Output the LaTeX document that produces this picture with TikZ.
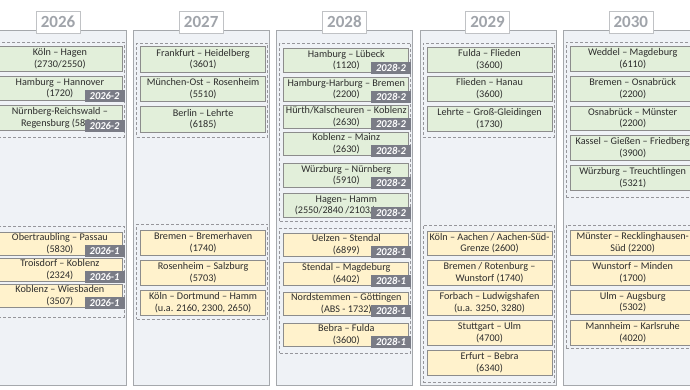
\documentclass[tikz,border=0pt]{standalone}
\usepackage{fontspec}
\setmainfont{Carlito}
\definecolor{panelfill}{RGB}{239,242,246}
\definecolor{panelline}{RGB}{165,168,172}
\definecolor{greenfill}{RGB}{226,239,218}
\definecolor{creamfill}{RGB}{255,242,204}
\definecolor{boxline}{RGB}{140,140,140}
\definecolor{tagfill}{RGB}{122,124,134}
\definecolor{yeartext}{RGB}{160,164,170}
\definecolor{grpline}{RGB}{150,150,155}
\definecolor{bodytext}{RGB}{45,45,45}
\tikzset{
  panel/.style={draw=panelline, fill=panelfill, line width=0.8pt, minimum width=136pt, anchor=north west, inner sep=0pt},
  yearlbl/.style={draw=panelline!70, fill=white, line width=0.6pt, minimum width=44pt, minimum height=22pt, inner sep=0pt, text=yeartext, font=\fontsize{17}{17}\selectfont\bfseries},
  grp/.style={draw=grpline, dashed, dash pattern=on 3pt off 2pt, line width=0.7pt, minimum width=131pt, anchor=north west, inner sep=0pt},
  rbox/.style={draw=boxline, line width=0.8pt, minimum width=125pt, anchor=north west, inner sep=0pt, align=center, text=bodytext, font=\fontsize{10.2}{11.5}\selectfont},
  gbox/.style={rbox, fill=greenfill},
  cbox/.style={rbox, fill=creamfill},
  tagbox/.style={fill=tagfill, text=white, minimum width=40pt, minimum height=12pt, inner sep=0pt, anchor=south east, font=\fontsize{10.5}{10.5}\selectfont\bfseries\itshape},
}
\newcommand\rtbox[6]{\node[#5, minimum height={(#4-#3)*1pt}] (#1) at ({#2+7},#3) {#6};}
\newcommand\rttag[2]{\node[tagbox] (#1t) at ([xshift=2pt,yshift=-1pt]#1.south east) {#2};}
\newcommand\grpbox[4]{\node[grp, minimum height={(#4-#3)*1pt}] (#1) at ({#2+3},#3) {};}
\begin{document}
\begin{tikzpicture}[x=1pt,y=-1pt]
\useasboundingbox (0,0) rectangle (690,389);
\clip (0,0) rectangle (690,389);
% panels
\foreach \k/\yr in {0/2026,1/2027,2/2028,3/2029,4/2030}{
  \pgfmathsetmacro\L{-10+143.2*\k}
  \node[panel, minimum height=355pt] (p\k) at (\L,30) {};
  \node[yearlbl] (y\k) at ({\L+68},22) {\yr};
}
% ---- 2026
\def\L{-10}
\grpbox{g0u}{\L}{42}{137}
\rtbox{a1}{\L}{46}{71}{gbox}{Köln – Hagen\\(2730/2550)}
\rtbox{a2}{\L}{76}{100}{gbox}{Hamburg – Hannover\\(1720)}
\rttag{a2}{2026-2}
\rtbox{a3}{\L}{105}{130}{gbox}{Nürnberg-Reichswald –\\Regensburg (5850)}
\rttag{a3}{2026-2}
\grpbox{g0l}{\L}{226}{317}
\rtbox{a4}{\L}{232}{255}{cbox}{Obertraubling – Passau\\(5830)}
\rttag{a4}{2026-1}
\rtbox{a5}{\L}{258}{281}{cbox}{Troisdorf – Koblenz\\(2324)}
\rttag{a5}{2026-1}
\rtbox{a6}{\L}{284}{307}{cbox}{Koblenz – Wiesbaden\\(3507)}
\rttag{a6}{2026-1}
% ---- 2027
\def\L{133.2}
\grpbox{g1u}{\L}{43}{137}
\rtbox{b1}{\L}{46}{72}{gbox}{Frankfurt – Heidelberg\\(3601)}
\rtbox{b2}{\L}{76}{101}{gbox}{München-Ost – Rosenheim\\(5510)}
\rtbox{b3}{\L}{106}{132}{gbox}{Berlin – Lehrte\\(6185)}
\grpbox{g1l}{\L}{224}{319}
\rtbox{b4}{\L}{230}{255}{cbox}{Bremen – Bremerhaven\\(1740)}
\rtbox{b5}{\L}{260}{285}{cbox}{Rosenheim – Salzburg\\(5703)}
\rtbox{b6}{\L}{290}{315}{cbox}{Köln – Dortmund – Hamm\\(u.a. 2160, 2300, 2650)}
% ---- 2028
\def\L{276.4}
\grpbox{g2u}{\L}{43}{221}
\rtbox{c1}{\L}{48}{72}{gbox}{Hamburg – Lübeck\\(1120)}
\rttag{c1}{2028-2}
\rtbox{c2}{\L}{77}{101}{gbox}{Hamburg-Harburg – Bremen\\(2200)}
\rttag{c2}{2028-2}
\rtbox{c3}{\L}{105}{128}{gbox}{Hürth/Kalscheuren – Koblenz\\(2630)}
\rttag{c3}{2028-2}
\rtbox{c4}{\L}{132}{155}{gbox}{Koblenz – Mainz\\(2630)}
\rttag{c4}{2028-2}
\rtbox{c5}{\L}{163}{187}{gbox}{Würzburg – Nürnberg\\(5910)}
\rttag{c5}{2028-2}
\rtbox{c6}{\L}{193}{217}{gbox}{Hagen– Hamm\\(2550/2840 /2103/\phantom{2650)}}
\rttag{c6}{2028-2}
\grpbox{g2l}{\L}{228}{353}
\rtbox{c7}{\L}{233}{256}{cbox}{Uelzen – Stendal\\(6899)}
\rttag{c7}{2028-1}
\rtbox{c8}{\L}{262}{285}{cbox}{Stendal – Magdeburg\\(6402)}
\rttag{c8}{2028-1}
\rtbox{c9}{\L}{292}{315}{cbox}{Nordstemmen – Göttingen\\(ABS - 1732)}
\rttag{c9}{2028-1}
\rtbox{c10}{\L}{323}{346}{cbox}{Bebra – Fulda\\(3600)}
\rttag{c10}{2028-1}
% ---- 2029
\def\L{419.6}
\grpbox{g3u}{\L}{43}{137}
\rtbox{d1}{\L}{47}{72}{gbox}{Fulda – Flieden\\(3600)}
\rtbox{d2}{\L}{76}{101}{gbox}{Flieden – Hanau\\(3600)}
\rtbox{d3}{\L}{106}{131}{gbox}{Lehrte – Groß-Gleidingen\\(1730)}
\grpbox{g3l}{\L}{225}{382}
\rtbox{d4}{\L}{231}{255}{cbox}{Köln – Aachen / Aachen-Süd-\\Grenze (2600)}
\rtbox{d5}{\L}{260}{285}{cbox}{Bremen / Rotenburg –\\Wunstorf (1740)}
\rtbox{d6}{\L}{290}{315}{cbox}{Forbach – Ludwigshafen\\(u.a. 3250, 3280)}
\rtbox{d7}{\L}{320}{345}{cbox}{Stuttgart – Ulm\\(4700)}
\rtbox{d8}{\L}{350}{375}{cbox}{Erfurt – Bebra\\(6340)}
% ---- 2030
\def\L{562.8}
\grpbox{g4u}{\L}{42}{197}
\rtbox{e1}{\L}{46}{71}{gbox}{Weddel – Magdeburg\\(6110)}
\rtbox{e2}{\L}{76}{101}{gbox}{Bremen – Osnabrück\\(2200)}
\rtbox{e3}{\L}{106}{130}{gbox}{Osnabrück – Münster\\(2200)}
\rtbox{e4}{\L}{135}{160}{gbox}{Kassel – Gießen – Friedberg\\(3900)}
\rtbox{e5}{\L}{165}{190}{gbox}{Würzburg – Treuchtlingen\\(5321)}
\grpbox{g4l}{\L}{225}{348}
\rtbox{e6}{\L}{230}{255}{cbox}{Münster – Recklinghausen-\\Süd (2200)}
\rtbox{e7}{\L}{260}{285}{cbox}{Wunstorf – Minden\\(1700)}
\rtbox{e8}{\L}{290}{314}{cbox}{Ulm – Augsburg\\(5302)}
\rtbox{e9}{\L}{320}{345}{cbox}{Mannheim – Karlsruhe\\(4020)}
\end{tikzpicture}
\end{document}
